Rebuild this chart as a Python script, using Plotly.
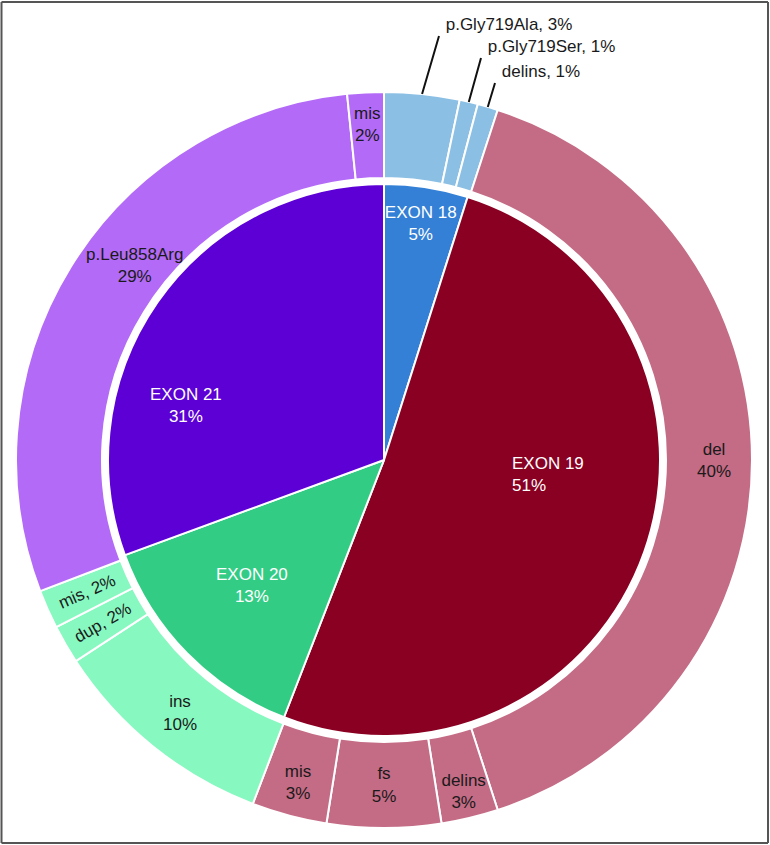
import math
import plotly.graph_objects as go

# ---------------- data ----------------
exon_labels = ["EXON 18", "EXON 19", "EXON 20", "EXON 21"]
exon_values = [4.9, 51.0, 13.5, 30.6]
exon_text = ["EXON 18<br>5%", "", "", ""]

mut_ids = ["E18 p.Gly719Ala", "E18 p.Gly719Ser", "E18 delins",
           "E19 del", "E19 delins", "E19 fs", "E19 mis",
           "E20 ins", "E20 dup", "E20 mis",
           "E21 p.Leu858Arg", "E21 mis"]
mut_values = [3.3, 0.8, 0.9,
              40.0, 2.5, 5.0, 3.3,
              10.0, 1.7, 1.7,
              29.2, 1.6]
mut_text = ["", "", "",
            "", "delins<br>3%", "fs<br>5%", "mis<br>3%",
            "ins<br>10%", "", "",
            "", ""]
mut_radial_text = ["", "", "", "", "", "", "", "", "dup, 2%", "mis, 2%", "", ""]
callout_labels = ["p.Gly719Ala, 3%", "p.Gly719Ser, 1%", "delins, 1%"]

# labels placed by hand in the reference (text, x px, y px, color, align)
free_labels = [
    ("EXON 19<br>51%", 510, 474, "white", "left"),
    ("EXON 21<br>31%", 186, 405, "white", "center"),
    ("EXON 20<br>13%", 252, 585, "white", "center"),
    ("p.Leu858Arg<br>29%", 134, 265, "#1a1a1a", "center"),
    ("mis<br>2%", 367, 125, "#1a1a1a", "center"),
    ("del<br>40%", 714, 461, "#1a1a1a", "center"),
]

# ---------------- styles ----------------
exon_colors = ["#3380D6", "#8A0022", "#33CC85", "#5C00D6"]
mut_colors = (["#8CBFE4"] * 3 + ["#C46B85"] * 4 + ["#87F8C0"] * 3 + ["#B36BF7"] * 2)

W, H = 770, 845
cx, cy = 384, 460
R_out, R_in, R_hole = 368, 276, 282
FONT = "Liberation Sans, Arial, sans-serif"
FS = 17


def dom(r):
    return dict(x=[(cx - r) / W, (cx + r) / W],
                y=[(H - cy - r) / H, (H - cy + r) / H])


fig = go.Figure()

fig.add_trace(go.Pie(
    labels=exon_labels, values=exon_values, text=exon_text,
    textinfo="text", sort=False, direction="clockwise", rotation=0,
    domain=dom(R_in),
    marker=dict(colors=exon_colors, line=dict(color="white", width=2)),
    textposition="inside", insidetextorientation="horizontal",
    insidetextfont=dict(color="white", size=FS, family=FONT),
    showlegend=False, hoverinfo="label+value",
))

fig.add_trace(go.Pie(
    labels=mut_ids, values=mut_values, text=mut_text,
    textinfo="text", sort=False, direction="clockwise", rotation=0,
    domain=dom(R_out), hole=R_hole / R_out,
    marker=dict(colors=mut_colors, line=dict(color="white", width=2)),
    textposition="inside", insidetextorientation="horizontal",
    insidetextfont=dict(color="#1a1a1a", size=FS, family=FONT),
    showlegend=False, hoverinfo="label+value",
))

fig.add_trace(go.Pie(
    labels=mut_ids, values=mut_values, text=mut_radial_text,
    textinfo="text", sort=False, direction="clockwise", rotation=0,
    domain=dom(R_out), hole=R_hole / R_out,
    marker=dict(colors=["rgba(0,0,0,0)"] * len(mut_ids),
                line=dict(color="rgba(0,0,0,0)", width=0)),
    textposition="inside", insidetextorientation="radial",
    insidetextfont=dict(color="#1a1a1a", size=FS, family=FONT),
    showlegend=False, hoverinfo="skip",
))

annotations = []

# callouts for the three small EXON 18 slices
total = sum(mut_values)
tails = [(439, 36), (481, 58), (495, 83)]
cum = 0.0
for i in range(3):
    mid = (cum + mut_values[i] / 2) / total
    cum += mut_values[i]
    ang = 2 * math.pi * mid
    xp = cx + R_out * math.sin(ang)
    yp = cy - R_out * math.cos(ang)
    annotations.append(dict(
        x=xp / W, y=1 - yp / H, xref="paper", yref="paper",
        ax=tails[i][0] - xp, ay=tails[i][1] - yp,
        text="&nbsp;" + callout_labels[i], showarrow=True, arrowhead=0,
        arrowwidth=2, arrowcolor="#111", standoff=0, borderpad=1,
        xanchor="left", yanchor="bottom",
        font=dict(color="#1a1a1a", size=FS, family=FONT),
    ))

for txt, xp, yp, col, al in free_labels:
    annotations.append(dict(
        x=xp / W, y=1 - yp / H, xref="paper", yref="paper",
        text=txt, showarrow=False, align=al,
        xanchor="left" if al == "left" else "center", yanchor="middle",
        font=dict(color=col, size=FS, family=FONT),
    ))

# frame around the figure, as four separate edges
xl, xr = 1.5 / W, (W - 2) / W
yb, yt = 2 / H, 1 - 2 / H
frame = dict(color="#555", width=2)
shapes = [
    dict(type="line", xref="paper", yref="paper", x0=xl, x1=xr, y0=yt, y1=yt, line=frame),
    dict(type="line", xref="paper", yref="paper", x0=xl, x1=xr, y0=yb, y1=yb, line=frame),
    dict(type="line", xref="paper", yref="paper", x0=xl, x1=xl, y0=yb, y1=yt, line=frame),
    dict(type="line", xref="paper", yref="paper", x0=xr, x1=xr, y0=yb, y1=yt, line=frame),
]

fig.update_layout(
    width=W, height=H,
    margin=dict(l=0, r=0, t=0, b=0),
    paper_bgcolor="white", plot_bgcolor="white",
    uniformtext=dict(minsize=FS, mode="show"),
    annotations=annotations,
    shapes=shapes,
)

fig.write_html(
    "out.html",
    config={"displayModeBar": False},
    post_script="document.body.style.margin='0';document.body.style.padding='0';"
                "document.body.style.overflow='hidden';",
)
